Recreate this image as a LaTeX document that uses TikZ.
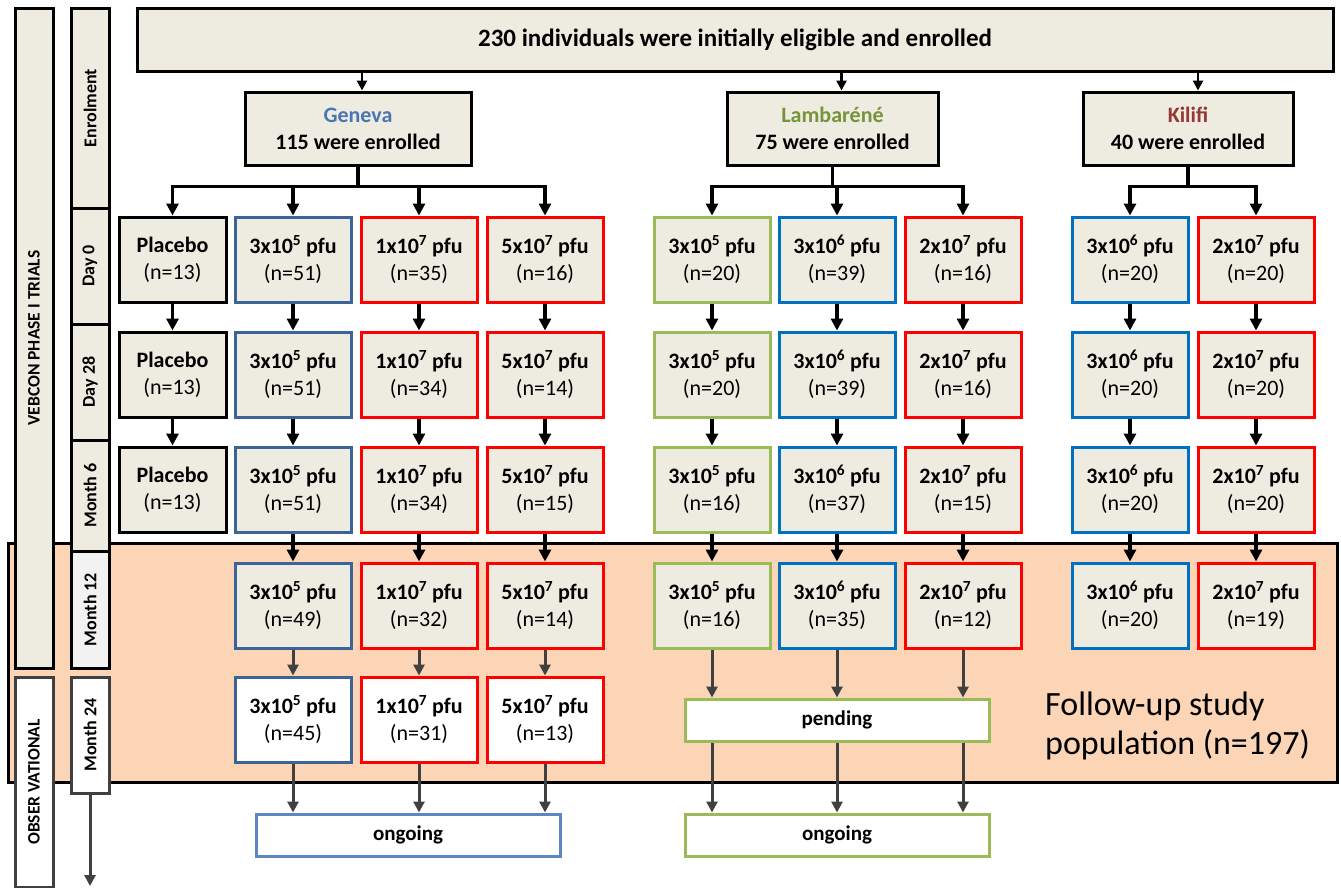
\documentclass[tikz,border=0pt]{standalone}
\usepackage{fontspec}
\setmainfont{Carlito}
\usetikzlibrary{arrows.meta}
\definecolor{beige}{HTML}{EEECE1}
\definecolor{genblue}{HTML}{3C6499}
\definecolor{gentext}{HTML}{4A76B2}
\definecolor{ongblue}{HTML}{5B87C5}
\definecolor{lgreen}{HTML}{9BBB59}
\definecolor{lamtext}{HTML}{77933C}
\definecolor{kiltext}{HTML}{953735}
\definecolor{brblue}{HTML}{0070C0}
\definecolor{brred}{HTML}{FF0000}
\definecolor{peach}{HTML}{FBD5B5}
\definecolor{lgray}{HTML}{F2F2F2}
\definecolor{dgray}{HTML}{404040}
\newcommand{\bx}[2]{{\bfseries #1}\\(n=#2)}
\newcommand{\pf}[3]{#1x10\textsuperscript{#2} pfu}
\begin{document}
\begin{tikzpicture}[x=1pt,y=-1pt,
  base/.style={draw, line width=3pt, inner sep=0pt, align=center, font=\fontsize{22}{27}\selectfont},
  grp/.style={base, fill=beige, minimum width=116pt, minimum height=85pt},
  wgrp/.style={base, fill=white, minimum width=116pt, minimum height=85pt},
  wide/.style={base, fill=white, minimum width=304pt, minimum height=42pt, font=\bfseries\fontsize{21}{26}\selectfont},
  site/.style={base, fill=beige, minimum height=73pt, font=\fontsize{22}{27}\selectfont},
  lab/.style={draw, line width=3pt, fill=beige, inner sep=0pt, rotate=90, minimum height=38pt, font=\bfseries\fontsize{18}{20}\selectfont},
  arr/.style={-{Triangle[length=12pt,width=12pt]}, line width=3.5pt, black},
  garr/.style={-{Triangle[length=11pt,width=11pt]}, line width=3pt, dgray},
  ]
\useasboundingbox (0,0) rectangle (1341,887);
% follow-up background
\node[draw, line width=3pt, fill=peach, minimum width=1329pt, minimum height=239pt, inner sep=0pt] (fu) at (672.5,662.5) {};
\node[anchor=west, align=left, inner sep=0pt, font=\fontsize{34}{39}\selectfont] (futxt) at (1045,726) {Follow-up study\\population (n=197)};
% left labels
\node[lab, minimum width=660pt, font=\bfseries\fontsize{17.5}{20}\selectfont] (veb) at (34,338) {VEBCON PHASE I TRIALS};
\node[lab, fill=white, draw=dgray, minimum width=210pt, font=\bfseries\fontsize{17.5}{20}\selectfont] (obs) at (34,782) {OBSER VATIONAL};
\node[lab, minimum width=200pt] (lenr) at (90,108) {Enrolment};
\node[lab, minimum width=116pt] (ld0) at (90,266) {Day 0};
\node[lab, minimum width=116pt] (ld28) at (90,382) {Day 28};
\node[lab, minimum width=111pt] (lm6) at (90,495.5) {Month 6};
\node[lab, fill=lgray, minimum width=117pt] (lm12) at (90,609.5) {Month 12};
\node[lab, fill=white, draw=dgray, minimum width=116pt] (lm24) at (90,735) {Month 24};
\coordinate (tend) at (90,886);
\draw[garr] (lm24.west) -- (tend);
% top
\node[base, fill=beige, minimum width=1196pt, minimum height=63pt, font=\bfseries\fontsize{25}{30}\selectfont] (top) at (735,39.5) {230 individuals were initially eligible and enrolled};
% sites
\node[site, minimum width=226pt] (gen) at (358,128.5) {{\bfseries\color{gentext}Geneva}\\\bfseries 115 were enrolled};
\node[site, minimum width=211pt] (lam) at (832.5,128.5) {{\bfseries\color{lamtext}Lambaréné}\\\bfseries 75 were enrolled};
\node[site, minimum width=210pt] (kil) at (1188,128.5) {{\bfseries\color{kiltext}Kilifi}\\\bfseries 40 were enrolled};
\coordinate (genin) at ([xshift=4pt]gen.north);
\coordinate (lamin) at ([xshift=9pt]lam.north);
\coordinate (kilin) at ([xshift=10pt]kil.north);
\draw[arr, line width=2.5pt, -{Triangle[length=10pt,width=10pt]}] (top.south -| genin) -- (genin);
\draw[arr, line width=2.5pt, -{Triangle[length=10pt,width=10pt]}] (top.south -| lamin) -- (lamin);
\draw[arr, line width=2.5pt, -{Triangle[length=10pt,width=10pt]}] (top.south -| kilin) -- (kilin);
% Geneva columns
\foreach \r/\y in {0/259.5,1/374.5,2/489.5}{
  \node[grp, minimum width=107pt] (p\r) at (172.5,\y) {\bx{Placebo}{13}};
}
\node[grp, draw=genblue] (ga0) at (293,259.5) {\bx{\pf{3}{5}{}}{51}};
\node[grp, draw=brred] (gb0) at (419,259.5) {\bx{\pf{1}{7}{}}{35}};
\node[grp, draw=brred] (gc0) at (545,259.5) {\bx{\pf{5}{7}{}}{16}};
\node[grp, draw=genblue] (ga1) at (293,374.5) {\bx{\pf{3}{5}{}}{51}};
\node[grp, draw=brred] (gb1) at (419,374.5) {\bx{\pf{1}{7}{}}{34}};
\node[grp, draw=brred] (gc1) at (545,374.5) {\bx{\pf{5}{7}{}}{14}};
\node[grp, draw=genblue] (ga2) at (293,489.5) {\bx{\pf{3}{5}{}}{51}};
\node[grp, draw=brred] (gb2) at (419,489.5) {\bx{\pf{1}{7}{}}{34}};
\node[grp, draw=brred] (gc2) at (545,489.5) {\bx{\pf{5}{7}{}}{15}};
\node[grp, draw=genblue] (ga3) at (293,605.5) {\bx{\pf{3}{5}{}}{49}};
\node[grp, draw=brred] (gb3) at (419,605.5) {\bx{\pf{1}{7}{}}{32}};
\node[grp, draw=brred] (gc3) at (545,605.5) {\bx{\pf{5}{7}{}}{14}};
\node[wgrp, draw=genblue] (ga4) at (293,719.5) {\bx{\pf{3}{5}{}}{45}};
\node[wgrp, draw=brred] (gb4) at (419,719.5) {\bx{\pf{1}{7}{}}{31}};
\node[wgrp, draw=brred] (gc4) at (545,719.5) {\bx{\pf{5}{7}{}}{13}};
\node[wide, draw=ongblue] (gong) at (408,835) {ongoing};
% Lambarene columns
\node[grp, draw=lgreen] (la0) at (712,259.5) {\bx{\pf{3}{5}{}}{20}};
\node[grp, draw=brblue] (lb0) at (837,259.5) {\bx{\pf{3}{6}{}}{39}};
\node[grp, draw=brred] (lc0) at (963,259.5) {\bx{\pf{2}{7}{}}{16}};
\node[grp, draw=lgreen] (la1) at (712,374.5) {\bx{\pf{3}{5}{}}{20}};
\node[grp, draw=brblue] (lb1) at (837,374.5) {\bx{\pf{3}{6}{}}{39}};
\node[grp, draw=brred] (lc1) at (963,374.5) {\bx{\pf{2}{7}{}}{16}};
\node[grp, draw=lgreen] (la2) at (712,489.5) {\bx{\pf{3}{5}{}}{16}};
\node[grp, draw=brblue] (lb2) at (837,489.5) {\bx{\pf{3}{6}{}}{37}};
\node[grp, draw=brred] (lc2) at (963,489.5) {\bx{\pf{2}{7}{}}{15}};
\node[grp, draw=lgreen] (la3) at (712,605.5) {\bx{\pf{3}{5}{}}{16}};
\node[grp, draw=brblue] (lb3) at (837,605.5) {\bx{\pf{3}{6}{}}{35}};
\node[grp, draw=brred] (lc3) at (963,605.5) {\bx{\pf{2}{7}{}}{12}};
\node[wide, draw=lgreen] (lpend) at (837,720) {pending};
\node[wide, draw=lgreen] (long) at (837,835) {ongoing};
% Kilifi columns
\node[grp, draw=brblue] (ka0) at (1130,259.5) {\bx{\pf{3}{6}{}}{20}};
\node[grp, draw=brred] (kb0) at (1256,259.5) {\bx{\pf{2}{7}{}}{20}};
\node[grp, draw=brblue] (ka1) at (1130,374.5) {\bx{\pf{3}{6}{}}{20}};
\node[grp, draw=brred] (kb1) at (1256,374.5) {\bx{\pf{2}{7}{}}{20}};
\node[grp, draw=brblue] (ka2) at (1130,489.5) {\bx{\pf{3}{6}{}}{20}};
\node[grp, draw=brred] (kb2) at (1256,489.5) {\bx{\pf{2}{7}{}}{20}};
\node[grp, draw=brblue] (ka3) at (1130,605.5) {\bx{\pf{3}{6}{}}{20}};
\node[grp, draw=brred] (kb3) at (1256,605.5) {\bx{\pf{2}{7}{}}{19}};
% branches
\coordinate (br) at (0,186.5);
\foreach \s/\t in {gen/p0,gen/ga0,gen/gb0,gen/gc0,lam/la0,lam/lb0,lam/lc0,kil/ka0,kil/kb0}{
  \draw[arr] (\s.south) -- (\s.south |- br) -| (\t.north);
}
% row arrows
\foreach \c in {p,ga,gb,gc,la,lb,lc,ka,kb}{
  \draw[arr] (\c0) -- (\c1);
  \draw[arr] (\c1) -- (\c2);
}
\foreach \c in {ga,gb,gc,la,lb,lc,ka,kb}{
  \draw[arr] (\c2) -- (\c3);
}
\foreach \c in {ga,gb,gc}{
  \draw[garr] (\c3) -- (\c4);
  \draw[garr] (\c4.south) -- (\c4.south |- gong.north);
}
\foreach \c in {la,lb,lc}{
  \draw[garr] (\c3.south) -- (\c3.south |- lpend.north);
  \draw[garr] (\c3.south |- lpend.south) -- (\c3.south |- long.north);
}
\end{tikzpicture}
\end{document}
